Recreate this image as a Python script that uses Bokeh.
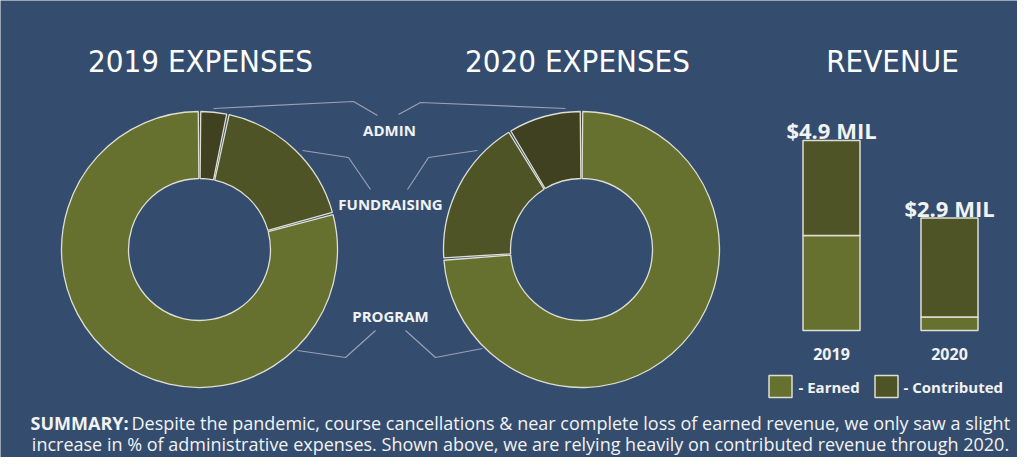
import numpy as np
from bokeh.plotting import figure
from bokeh.models import Range1d, ColumnDataSource
from bokeh.core.properties import value
from bokeh.embed import file_html
from bokeh.resources import INLINE

# ---------------- data ----------------
segments = ["ADMIN", "FUNDRAISING", "PROGRAM"]
expenses_2019 = [3.3, 17.5, 79.2]
expenses_2020 = [8.7, 17.4, 73.9]
years = ["2019", "2020"]
earned = [2.45, 0.35]
contributed = [2.45, 2.55]
total_labels = ["$4.9 MIL", "$2.9 MIL"]
titles = ["2019 EXPENSES", "2020 EXPENSES", "REVENUE"]
legend_labels = ["- Earned", "- Contributed"]
summary_bold = "SUMMARY:"
summary_line1 = "Despite the pandemic, course cancellations & near complete loss of earned revenue, we only saw a slight"
summary_line2 = "increase in % of administrative expenses. Shown above, we are relying heavily on contributed revenue through 2020."

# ---------------- style ----------------
W, H = 1017, 457
BG = "#344d6e"
SEG_COLORS = ["#3f4120", "#4e5426", "#66702f"]
EARNED_C = "#66702f"
CONTRIB_C = "#4e5426"
EDGE = "#deded2"
TXT = "#f2f2f2"
CALLOUT = "#9a9fb5"
FONT = value("Open Sans")

def Y(s):  # screen y -> data y
    return H - s

p = figure(width=W, height=H, x_range=Range1d(0, W), y_range=Range1d(0, H),
           output_backend="svg", toolbar_location=None, min_border=0,
           x_axis_location=None, y_axis_location=None,
           background_fill_color=BG, border_fill_color=BG, outline_line_color=None)
p.grid.visible = False

# ---------------- donuts ----------------
def donut(cx, cy, vals, clockwise):
    shares = np.array(vals, dtype=float) / sum(vals)
    cum = np.concatenate([[0.0], np.cumsum(shares)]) * 2 * np.pi
    gap = 0.009
    if clockwise:
        start = np.pi / 2 - cum[1:] + gap
        end = np.pi / 2 - cum[:-1] - gap
    else:
        start = np.pi / 2 + cum[:-1] + gap
        end = np.pi / 2 + cum[1:] - gap
    src = ColumnDataSource(dict(x=[cx] * len(vals), y=[cy] * len(vals),
                                start=start, end=end, color=SEG_COLORS, seg=segments))
    p.annular_wedge(x="x", y="y", inner_radius=71, outer_radius=138,
                    start_angle="start", end_angle="end", fill_color="color",
                    line_color=EDGE, line_width=1.3, source=src)

donut(199, Y(249), expenses_2019, clockwise=True)
donut(581, Y(249), expenses_2020, clockwise=False)

# callout lines
xs = [[213, 353, 377], [398, 420, 565],
      [302, 348, 370], [407, 428, 477],
      [375, 345, 297], [405, 435, 482]]
ys_screen = [[108, 101, 115], [114, 102, 108],
             [150, 157, 189], [189, 157, 150],
             [330, 357, 350], [330, 357, 348]]
ys = [[Y(v) for v in row] for row in ys_screen]
p.multi_line(xs=xs, ys=ys, line_color=CALLOUT, line_width=1.2)

# segment labels
p.text(x=[389, 390, 390], y=[Y(129), Y(203), Y(315)], text=segments,
       text_align="center", text_baseline="middle", text_font=FONT,
       text_font_style="bold", text_font_size="15px", text_color=TXT)

# titles
p.text(x=[200, 577, 892], y=[Y(60)] * 3, text=titles, text_align="center",
       text_baseline="middle", text_font=value("DejaVu Sans Condensed"),
       text_font_size="31px", text_color="white")

# ---------------- revenue bars ----------------
k = 38.8           # px per million
base_px = H - 330  # baseline pixel from bottom
p.extra_y_ranges = {"rev": Range1d(-base_px / k, (H - base_px) / k)}
step = 118.0
x0 = 831.0
p.extra_x_ranges = {"revx": Range1d(-x0 / step, (W - x0) / step)}

idx = list(range(len(years)))
tot = [e + c for e, c in zip(earned, contributed)]
p.vbar(x=idx, bottom=0, top=earned, width=57 / step, fill_color=EARNED_C,
       line_color=EDGE, line_width=1.5, x_range_name="revx", y_range_name="rev")
p.vbar(x=idx, bottom=earned, top=tot, width=57 / step, fill_color=CONTRIB_C,
       line_color=EDGE, line_width=1.5, x_range_name="revx", y_range_name="rev")
p.text(x=idx, y=tot, text=total_labels, text_align="center", text_baseline="alphabetic",
       y_offset=-10, text_font=FONT, text_font_style="bold", text_font_size="22px",
       text_color=TXT, x_range_name="revx", y_range_name="rev")
p.text(x=idx, y=[0, 0], text=years, text_align="center", text_baseline="alphabetic",
       y_offset=23, text_font=FONT, text_font_style="bold", text_font_size="16px",
       text_color=TXT, x_range_name="revx", y_range_name="rev")

# legend
p.rect(x=[780, 886], y=[Y(386)] * 2, width=23, height=22, fill_color=[EARNED_C, CONTRIB_C],
       line_color=EDGE, line_width=1.5)
p.text(x=[798, 903], y=[Y(386)] * 2, text=legend_labels, text_align="left",
       text_baseline="middle", text_font=FONT, text_font_style="bold",
       text_font_size="15px", text_color=TXT)

# summary
p.text(x=[30], y=[Y(422)], text=[summary_bold], text_align="left", text_baseline="middle",
       text_font=FONT, text_font_style="bold", text_font_size="18px", text_color=TXT)
p.text(x=[131], y=[Y(422)], text=[summary_line1], text_align="left", text_baseline="middle",
       text_font=FONT, text_font_size="18px", text_color=TXT)
p.text(x=[520], y=[Y(443)], text=[summary_line2], text_align="center", text_baseline="middle",
       text_font=FONT, text_font_size="18px", text_color=TXT)

open("out.html", "w").write(file_html(p, INLINE))
